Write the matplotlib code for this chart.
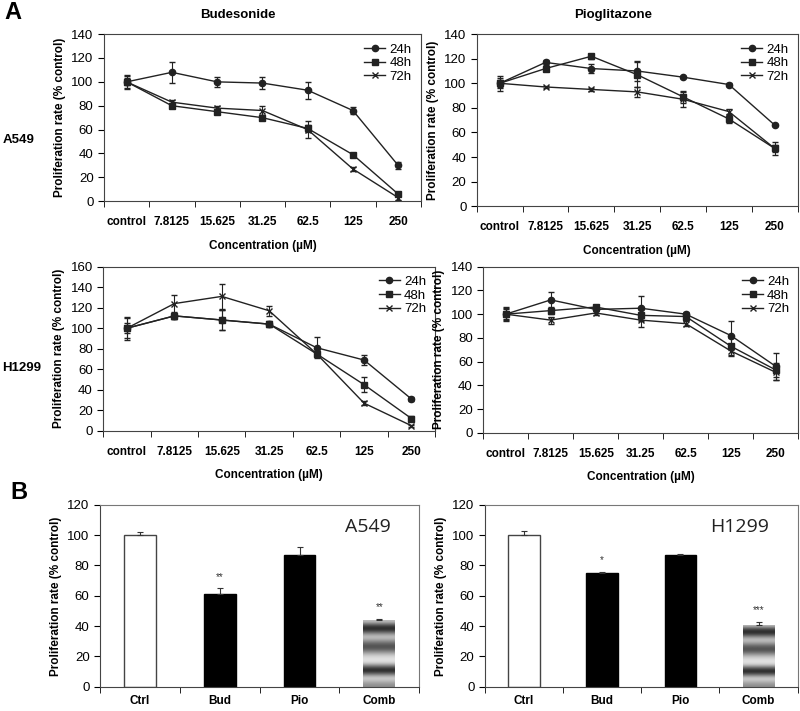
import numpy as np
import matplotlib
matplotlib.use("Agg")
import matplotlib.pyplot as plt
from matplotlib.lines import Line2D

plt.rcParams['font.family'] = ['Liberation Sans', 'DejaVu Sans']

# ---- data ----
conc_labels = ["control", "7.8125", "15.625", "31.25", "62.5", "125", "250"]
times = ["24h", "48h", "72h"]

bud_a549 = {
    "24h": [100, 108, 100, 99, 93, 76, 30],
    "48h": [100, 80, 75, 70, 61, 39, 6],
    "72h": [100, 83, 78, 76, 60, 27, 3],
}
bud_a549_err = {
    "24h": [6, 9, 4, 5, 7, 3, 3],
    "48h": [5, 2, 2, 2, 3, 1, 2],
    "72h": [3, 2, 2, 4, 7, 2, 2],
}
pio_a549 = {
    "24h": [100, 117, 112, 110, 105, 99, 66],
    "48h": [100, 112, 122, 107, 89, 71, 47],
    "72h": [100, 97, 95, 93, 87, 77, 47],
}
pio_a549_err = {
    "24h": [3, 2, 4, 8, 1, 1, 1],
    "48h": [6, 2, 2, 10, 5, 3, 5],
    "72h": [4, 1, 1, 4, 6, 2, 3],
}
bud_h1299 = {
    "24h": [100, 112, 108, 104, 81, 69, 31],
    "48h": [100, 112, 108, 104, 75, 45, 12],
    "72h": [100, 124, 131, 117, 75, 27, 5],
}
bud_h1299_err = {
    "24h": [11, 3, 10, 2, 10, 5, 2],
    "48h": [10, 3, 10, 3, 2, 7, 2],
    "72h": [5, 8, 12, 5, 2, 2, 1],
}
pio_h1299 = {
    "24h": [100, 112, 104, 105, 100, 82, 56],
    "48h": [100, 103, 106, 99, 98, 73, 53],
    "72h": [100, 95, 101, 95, 92, 69, 51],
}
pio_h1299_err = {
    "24h": [6, 7, 3, 10, 2, 12, 11],
    "48h": [4, 3, 2, 5, 3, 7, 6],
    "72h": [5, 3, 2, 6, 2, 4, 6],
}

bar_labels = ["Ctrl", "Bud", "Pio", "Comb"]
bar_a549 = [100, 61, 87, 44]
bar_a549_err = [2, 4, 5, 1]
bar_a549_sig = ["", "**", "", "**"]
bar_h1299 = [100, 75, 87, 41]
bar_h1299_err = [3, 1, 0.5, 2]
bar_h1299_sig = ["", "*", "", "***"]

# grey bands of the patterned "Comb" bar, top to bottom
comb_shade = [0.75, 0.25, 0.12, 0.5, 0.8, 0.6, 0.35, 0.3, 0.55, 0.8, 0.9,
              0.85, 0.4, 0.08, 0.45, 0.85, 0.7, 0.55]

markers = {"24h": "o", "48h": "s", "72h": "x"}
msize = {"24h": 4.5, "48h": 5, "72h": 5}
line_col = "#222222"


def line_panel(ax, data, err, ymax, ystep):
    x = np.arange(len(conc_labels))
    for t in times:
        ax.errorbar(x, data[t], yerr=err[t], color=line_col, lw=1.0,
                    marker=markers[t], ms=msize[t], mew=1.0, capsize=2,
                    elinewidth=0.8, capthick=0.8)
    handles = [Line2D([], [], color=line_col, lw=1.0, marker=markers[t],
                      ms=msize[t], mew=1.0) for t in times]
    ax.legend(handles, times, loc="upper right", frameon=False, fontsize=9.5,
              handlelength=1.6, handletextpad=0.3, labelspacing=0.1, borderaxespad=0.3)
    ax.set_xlim(-0.5, len(conc_labels) - 0.5)
    ax.set_ylim(0, ymax)
    ax.set_yticks(np.arange(0, ymax + 1, ystep))
    ax.set_xticks(x)
    ax.set_xticklabels(conc_labels, fontweight="bold", fontsize=8.5)
    ax.set_xticks(np.arange(-0.5, len(conc_labels), 1), minor=True)
    ax.tick_params(axis="x", which="major", length=0, pad=11)
    ax.tick_params(axis="x", which="minor", length=4, direction="out")
    ax.tick_params(axis="y", length=4, direction="out", labelsize=9.5)
    ax.set_xlabel("Concentration (µM)", fontweight="bold", fontsize=8.5, labelpad=8)
    ax.set_ylabel("Proliferation rate (% control)", fontweight="bold", fontsize=8.5)
    for s in ax.spines.values():
        s.set_color("#444444")


def bar_panel(ax, vals, errs, sigs, name):
    x = np.arange(len(bar_labels))
    colors = ["white", "black", "black", "white"]
    bars = ax.bar(x, vals, width=0.4, color=colors, edgecolor=["#444444", "black", "black", "none"],
                  lw=1.0, zorder=2)
    ax.errorbar(x, vals, yerr=[np.zeros(len(errs)), errs], fmt="none", ecolor="#333333",
                elinewidth=0.8, capsize=2, capthick=0.8, zorder=3)
    # patterned combination bar
    comb = bars[3]
    img = np.array(comb_shade).reshape(-1, 1)
    im = ax.imshow(img, cmap="gray", vmin=0, vmax=1, aspect="auto", interpolation="bicubic",
                   extent=(comb.get_x(), comb.get_x() + comb.get_width(), 0, comb.get_height()),
                   zorder=2)
    im.set_clip_path(comb)
    for xi, v, e, s in zip(x, vals, errs, sigs):
        if s:
            ax.text(xi, v + e + 4, s, ha="center", va="bottom", fontsize=7, color="#333333")
    ax.text(0.91, 0.93, name, transform=ax.transAxes, ha="right", va="top",
            fontsize=14, family="Open Sans", color="#222222")
    ax.set_xlim(-0.5, len(bar_labels) - 0.5)
    ax.set_ylim(0, 120)
    ax.set_yticks(np.arange(0, 121, 20))
    ax.set_xticks(x)
    ax.set_xticklabels(bar_labels, fontweight="bold", fontsize=8.5)
    ax.set_xticks(np.arange(-0.5, len(bar_labels), 1), minor=True)
    ax.tick_params(axis="x", which="major", length=0, pad=6)
    ax.tick_params(axis="x", which="minor", length=4, direction="out")
    ax.tick_params(axis="y", length=4, direction="out", labelsize=9.5)
    ax.set_ylabel("Proliferation rate (% control)", fontweight="bold", fontsize=8.5)
    for s in ax.spines.values():
        s.set_color("#777777")
    ax.spines["left"].set_color("#444444")
    ax.spines["bottom"].set_color("#444444")


fig = plt.figure(figsize=(8, 7.11), dpi=100)

ax1 = fig.add_axes([0.130, 0.717, 0.396, 0.235])
ax2 = fig.add_axes([0.596, 0.710, 0.401, 0.242])
ax3 = fig.add_axes([0.129, 0.394, 0.415, 0.231])
ax4 = fig.add_axes([0.604, 0.391, 0.394, 0.234])
ax5 = fig.add_axes([0.125, 0.034, 0.399, 0.256])
ax6 = fig.add_axes([0.606, 0.034, 0.391, 0.256])

line_panel(ax1, bud_a549, bud_a549_err, 140, 20)
line_panel(ax2, pio_a549, pio_a549_err, 140, 20)
line_panel(ax3, bud_h1299, bud_h1299_err, 160, 20)
line_panel(ax4, pio_h1299, pio_h1299_err, 140, 20)
bar_panel(ax5, bar_a549, bar_a549_err, bar_a549_sig, "A549")
bar_panel(ax6, bar_h1299, bar_h1299_err, bar_h1299_sig, "H1299")

fig.text(0.006, 0.982, "A", fontsize=17, fontweight="bold", va="center")
fig.text(0.013, 0.307, "B", fontsize=17, fontweight="bold", va="center")
fig.text(0.297, 0.979, "Budesonide", fontsize=9.5, fontweight="bold", ha="center", va="center")
fig.text(0.767, 0.979, "Pioglitazone", fontsize=9.5, fontweight="bold", ha="center", va="center")
fig.text(0.003, 0.803, "A549", fontsize=9.5, fontweight="bold", va="center")
fig.text(0.003, 0.482, "H1299", fontsize=9.5, fontweight="bold", va="center")

fig.savefig("out.png", dpi=100)
